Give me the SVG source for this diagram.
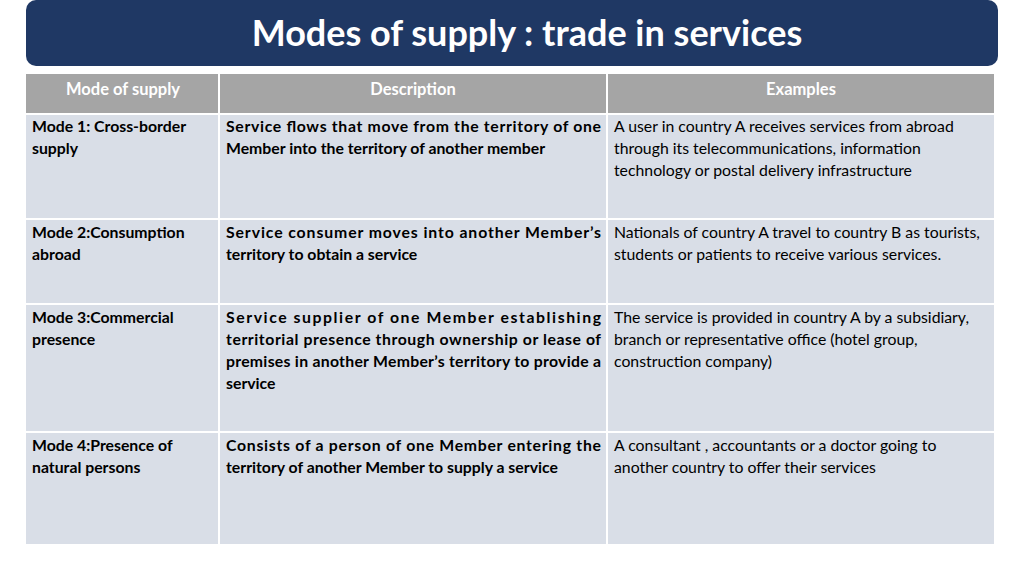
<svg xmlns="http://www.w3.org/2000/svg" width="1024" height="576" viewBox="0 0 1024 576">
<style>
text{font-family:Lato,"Open Sans","Liberation Sans",sans-serif;font-size:15.8px;fill:#000}
.b{font-weight:bold}
.h{font-weight:bold;fill:#fff;font-size:16.5px;text-anchor:middle}
.c{fill:#d9dee7}
.hd{fill:#a5a5a5}
</style>
<rect width="1024" height="576" fill="#fff"/>
<g id="title"><rect x="26" y="0" width="972" height="66" rx="10" fill="#1f3864"/>
<text x="527" y="46" text-anchor="middle" style="font-size:36px;font-weight:bold;fill:#fff">Modes of supply : trade in services</text></g>
<g id="header">
<rect class="hd" x="26" y="74" width="192" height="39"/><rect class="hd" x="220" y="74" width="386" height="39"/><rect class="hd" x="608" y="74" width="386" height="39"/>
<text class="h" x="123" y="95">Mode of supply</text><text class="h" x="413" y="95">Description</text><text class="h" x="801" y="95">Examples</text></g>
<g id="cells">
<rect class="c" x="26" y="115" width="192" height="103"/><rect class="c" x="220" y="115" width="386" height="103"/><rect class="c" x="608" y="115" width="386" height="103"/>
<rect class="c" x="26" y="220" width="192" height="83"/><rect class="c" x="220" y="220" width="386" height="83"/><rect class="c" x="608" y="220" width="386" height="83"/>
<rect class="c" x="26" y="305" width="192" height="126"/><rect class="c" x="220" y="305" width="386" height="126"/><rect class="c" x="608" y="305" width="386" height="126"/>
<rect class="c" x="26" y="433" width="192" height="111"/><rect class="c" x="220" y="433" width="386" height="111"/><rect class="c" x="608" y="433" width="386" height="111"/>
</g>
<g id="row1">
<text class="b" x="32" y="132">Mode 1: Cross-border</text><text class="b" x="32" y="154">supply</text>
<text class="b" x="226" y="132" textLength="375" lengthAdjust="spacing">Service flows that move from the territory of one</text>
<text class="b" x="226" y="154">Member into the territory of another member</text>
<text x="614" y="132">A user in country A receives services from abroad</text>
<text x="614" y="154">through its telecommunications, information</text>
<text x="614" y="176">technology or postal delivery infrastructure</text></g>
<g id="row2">
<text class="b" x="32" y="238">Mode 2:Consumption</text><text class="b" x="32" y="260">abroad</text>
<text class="b" x="226" y="238" textLength="375" lengthAdjust="spacing">Service consumer moves into another Member’s</text>
<text class="b" x="226" y="260">territory to obtain a service</text>
<text x="614" y="238">Nationals of country A travel to country B as tourists,</text>
<text x="614" y="260">students or patients to receive various services.</text></g>
<g id="row3">
<text class="b" x="32" y="323">Mode 3:Commercial</text><text class="b" x="32" y="345">presence</text>
<text class="b" x="226" y="323" textLength="375" lengthAdjust="spacing">Service supplier of one Member establishing</text>
<text class="b" x="226" y="345" textLength="375" lengthAdjust="spacing">territorial presence through ownership or lease of</text>
<text class="b" x="226" y="367" textLength="375" lengthAdjust="spacing">premises in another Member’s territory to provide a</text>
<text class="b" x="226" y="389">service</text>
<text x="614" y="323">The service is provided in country A by a subsidiary,</text>
<text x="614" y="345">branch or representative office (hotel group,</text>
<text x="614" y="367">construction company)</text></g>
<g id="row4">
<text class="b" x="32" y="451">Mode 4:Presence of</text><text class="b" x="32" y="473">natural persons</text>
<text class="b" x="226" y="451" textLength="375" lengthAdjust="spacing">Consists of a person of one Member entering the</text>
<text class="b" x="226" y="473">territory of another Member to supply a service</text>
<text x="614" y="451">A consultant , accountants or a doctor going to</text>
<text x="614" y="473">another country to offer their services</text></g>
</svg>
